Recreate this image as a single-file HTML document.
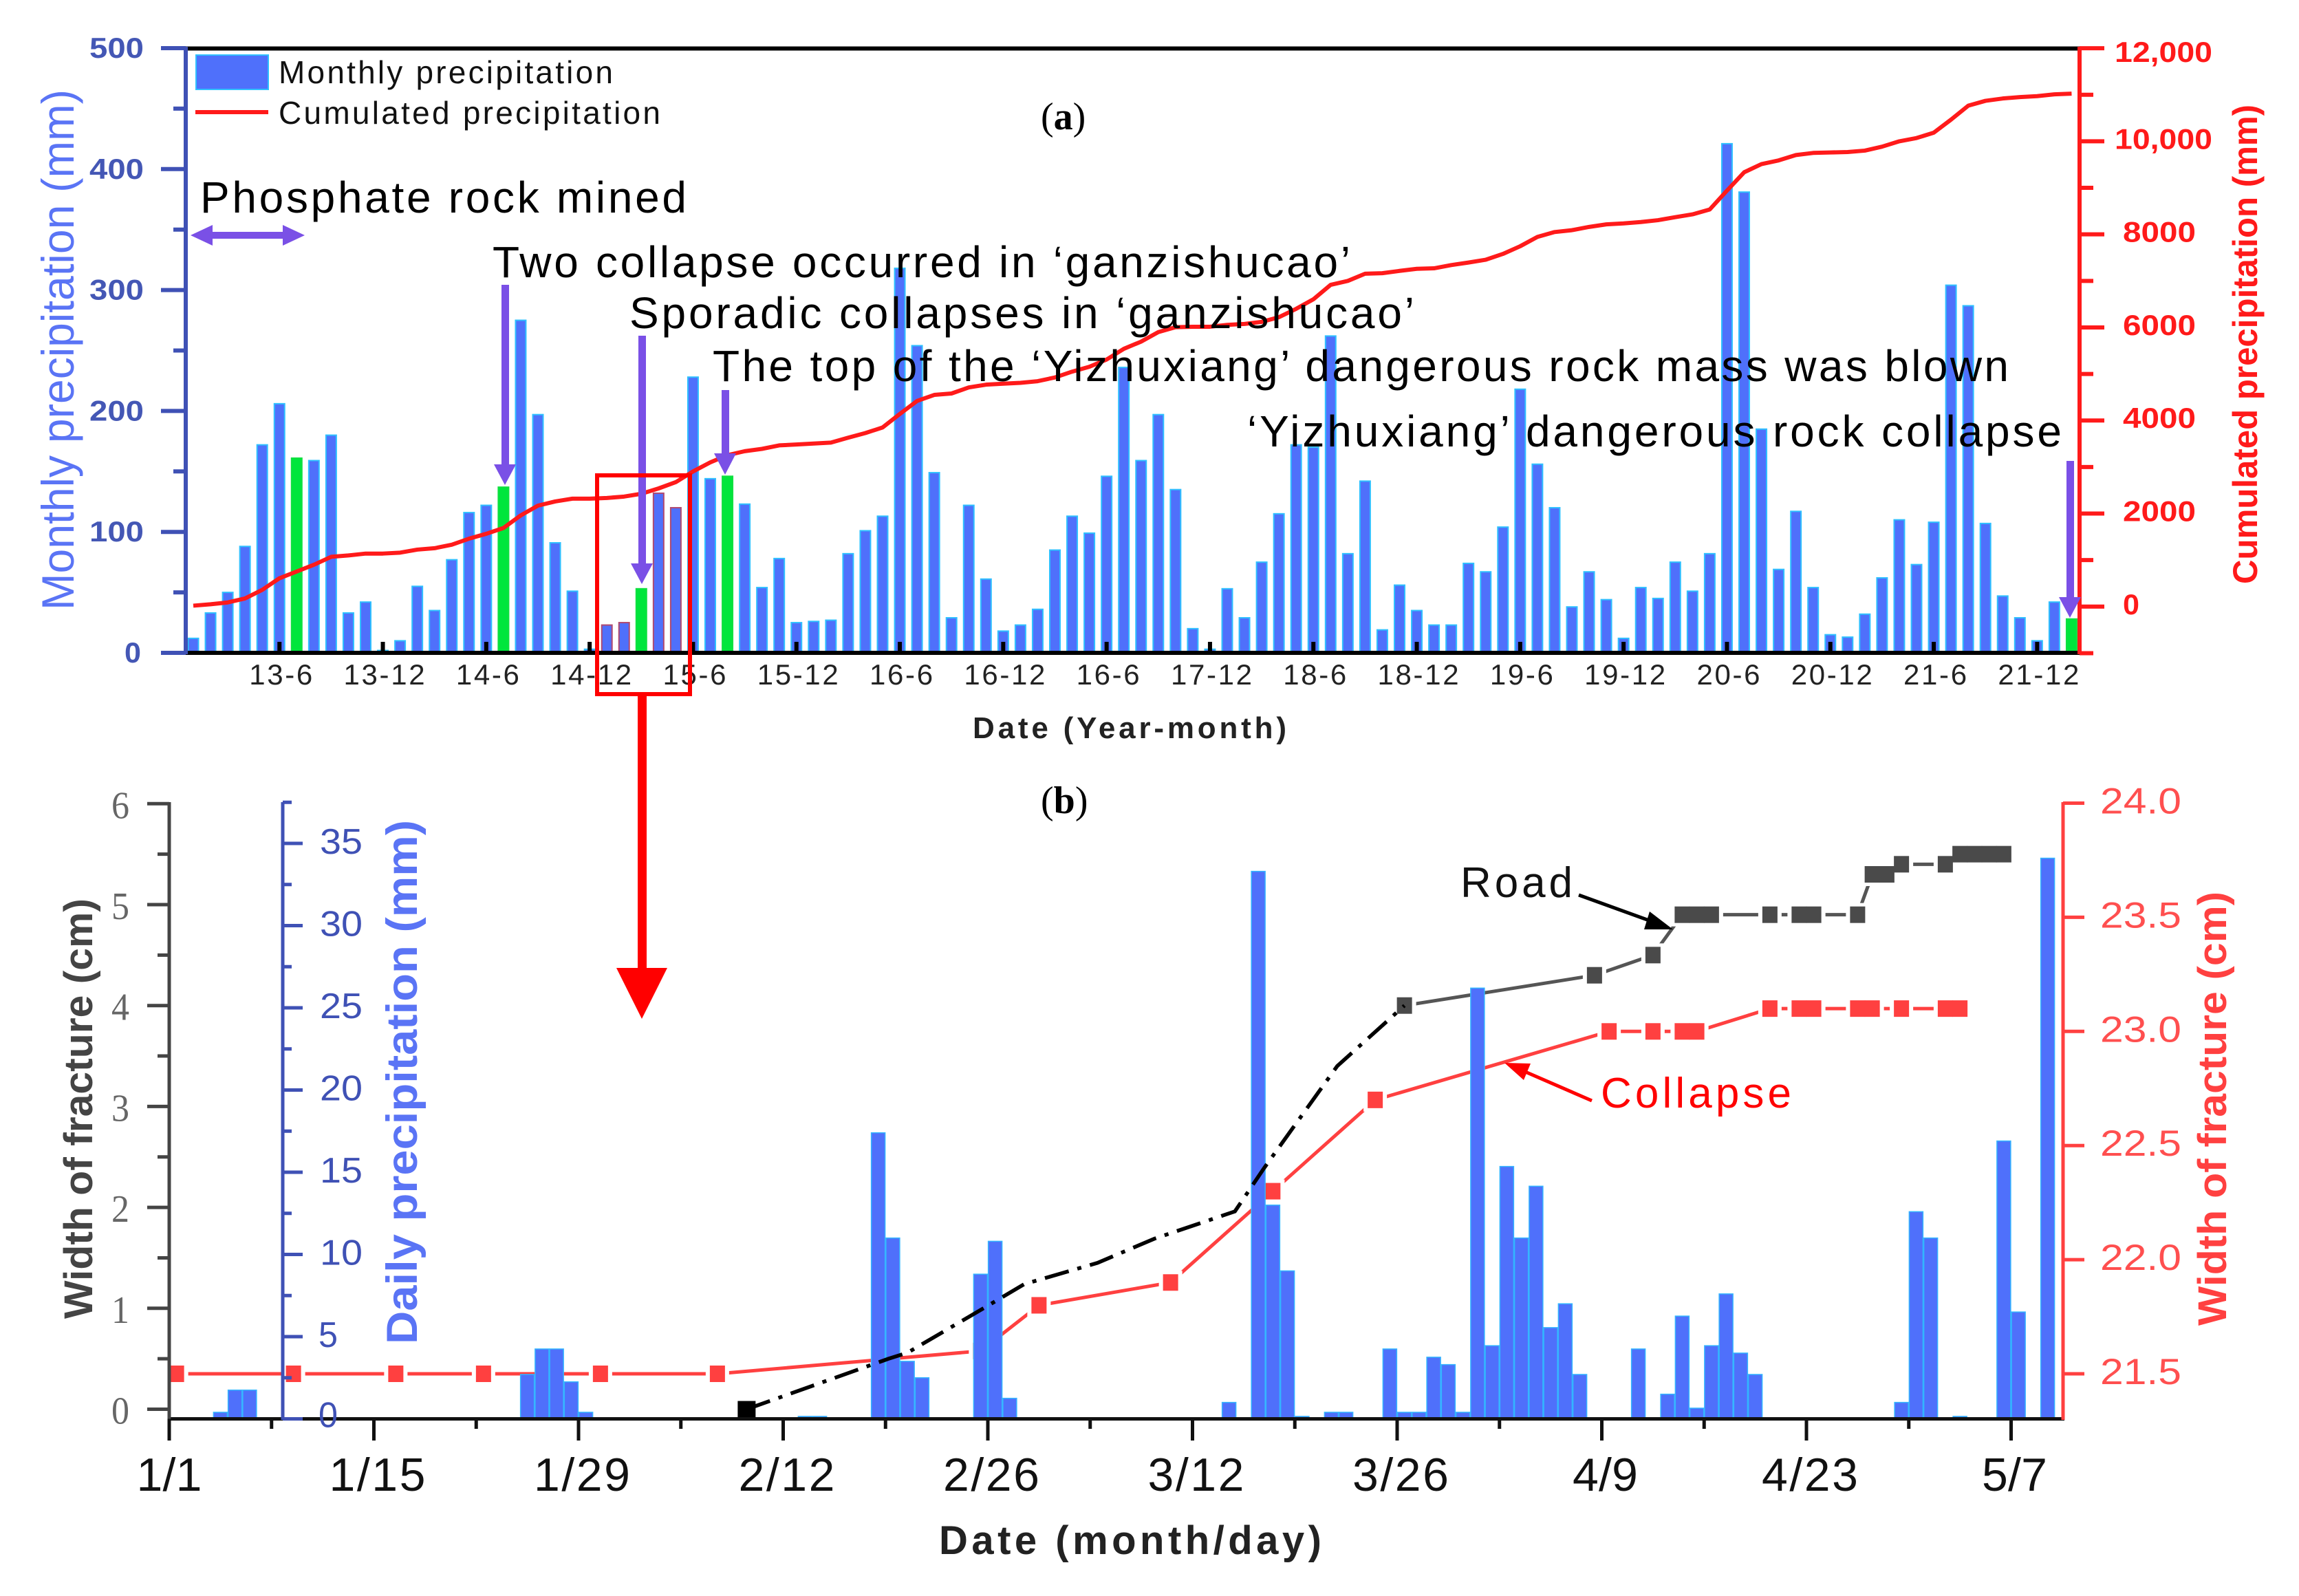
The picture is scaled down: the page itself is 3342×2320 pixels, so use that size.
<!DOCTYPE html>
<html lang="en">
<head>
<meta charset="utf-8">
<title>Precipitation and fracture width chart</title>
<style>
html,body{margin:0;padding:0;background:#fff;width:3342px;height:2320px;overflow:hidden}
svg{display:block}
text{font-family:"Liberation Sans",sans-serif}
.serif{font-family:"Liberation Serif",serif}
</style>
</head>
<body>
<svg id="chart" xmlns="http://www.w3.org/2000/svg" width="3342" height="2320" viewBox="0 0 3342 2320">
  <rect width="3342" height="2320" fill="#fff"/>
  <g id="a-back"></g>
  <g id="a-axes"></g>
  <g id="b-back"></g>
  <g id="b-bars"></g>
  <g id="b-front"></g>
  <g id="b-axes"></g>

  <!-- Panel a legend -->
  <rect x="285" y="80" width="105" height="50" fill="#4f70fb" stroke="#2fc0ff" stroke-width="2"/>
  <line x1="284" x2="390" y1="163" y2="163" stroke="#ff1a1a" stroke-width="6"/>
  <text x="405" y="121" font-size="46" fill="#111" textLength="486" lengthAdjust="spacing">Monthly precipitation</text>
  <text x="405" y="180" font-size="46" fill="#111" textLength="555" lengthAdjust="spacing">Cumulated precipitation</text>

  <!-- Panel a titles -->
  <text class="serif" x="1513" y="188" font-size="56" fill="#000">(<tspan font-weight="bold">a</tspan>)</text>
  <text transform="translate(107,887) rotate(-90)" font-size="66" fill="#5a74f5" textLength="757" lengthAdjust="spacingAndGlyphs">Monthly precipitation (mm)</text>
  <text transform="translate(3281,849) rotate(-90)" font-size="50" font-weight="bold" fill="#ff1a1a" textLength="697" lengthAdjust="spacingAndGlyphs">Cumulated precipitation (mm)</text>
  <text x="1414" y="1073" font-size="44" font-weight="bold" fill="#222" textLength="456" lengthAdjust="spacing">Date (Year-month)</text>

  <!-- Panel a annotations -->
  <text x="291" y="309" font-size="64" fill="#000" textLength="707" lengthAdjust="spacing">Phosphate rock mined</text>
  <text x="716" y="403" font-size="64" fill="#000" textLength="1247" lengthAdjust="spacing">Two collapse occurred in ‘ganzishucao’</text>
  <text x="915" y="477" font-size="64" fill="#000" textLength="1141" lengthAdjust="spacing">Sporadic collapses in ‘ganzishucao’</text>
  <text x="1036" y="554" font-size="64" fill="#000" textLength="1884" lengthAdjust="spacing">The top of the ‘Yizhuxiang’ dangerous rock mass was blown</text>
  <text x="1813" y="649" font-size="64" fill="#000" textLength="1184" lengthAdjust="spacing">‘Yizhuxiang’ dangerous rock collapse</text>

  <path fill="#7a50e6" d="M277 342 L309 327 L309 337 L411 337 L411 327 L443 342 L411 357 L411 347 L309 347 L309 357 Z"/>
  <path fill="#7a50e6" d="M729 414 h11 v261 h10 L734 705 L718 675 h11 Z"/>
  <path fill="#7a50e6" d="M928 488 h11 v331 h10 L933 849 L917 819 h11 Z"/>
  <path fill="#7a50e6" d="M1049 567 h11 v92 h10 L1054 690 L1038 659 h11 Z"/>
  <path fill="#7a50e6" d="M3004 670 h11 v198 h10 L3009 898 L2993 868 h11 Z"/>

  <rect x="868" y="691" width="135" height="318" fill="none" stroke="#ff0000" stroke-width="6"/>
  <path fill="#ff0000" d="M927 1009 h13 v398 h30 L933 1481 L896 1407 h31 Z"/>

  <!-- Panel b titles -->
  <text class="serif" x="1513" y="1182" font-size="56" fill="#000">(<tspan font-weight="bold">b</tspan>)</text>
  <text transform="translate(134,1917) rotate(-90)" font-size="58" font-weight="bold" fill="#444" textLength="611" lengthAdjust="spacingAndGlyphs">Width of fracture (cm)</text>
  <text transform="translate(606,1954) rotate(-90)" font-size="63" font-weight="bold" fill="#5a74f5" textLength="762" lengthAdjust="spacingAndGlyphs">Daily precipitation (mm)</text>
  <text transform="translate(3236,1927) rotate(-90)" font-size="58" font-weight="bold" fill="#ff4040" textLength="631" lengthAdjust="spacingAndGlyphs">Width of fracture (cm)</text>
  <text x="1365" y="2259" font-size="58" font-weight="bold" fill="#222" textLength="556" lengthAdjust="spacing">Date (month/day)</text>

  <!-- Panel b callouts -->
  <text x="2123" y="1304" font-size="62" fill="#111" textLength="163" lengthAdjust="spacing">Road</text>
  <line x1="2295" y1="1301" x2="2400" y2="1339" stroke="#000" stroke-width="5"/>
  <path fill="#000" d="M2432 1351 L2390 1351 L2398 1325 Z"/>
  <text x="2327" y="1610" font-size="62" fill="#ff0000" textLength="277" lengthAdjust="spacing">Collapse</text>
  <line x1="2314" y1="1600" x2="2215" y2="1557" stroke="#ff0000" stroke-width="5"/>
  <path fill="#ff0000" d="M2187 1545 L2225 1546 L2215 1570 Z"/>

<script>
// ---------- Panel (a) data ----------
var monthlyPrecip = [12,33,50,88,172,206,161,159,180,33,42,2,10,55,35,77,116,122,137,275,197,91,51,3,23,25,53,132,120,228,144,146,123,54,78,25,26,27,82,101,113,318,254,149,29,122,61,18,23,36,85,113,99,146,236,159,197,135,20,3,53,29,75,115,172,170,262,82,142,19,56,35,23,23,74,67,104,218,156,120,38,67,44,12,54,45,75,51,82,421,381,185,69,117,54,15,13,32,62,110,73,108,304,287,107,47,29,10,42,28];
var cumulatedPrecip = [20,50,90,175,360,610,755,900,1070,1100,1140,1140,1160,1225,1255,1330,1460,1565,1690,1960,2170,2260,2320,2320,2335,2365,2425,2540,2675,2905,3100,3255,3340,3390,3465,3485,3505,3525,3630,3730,3850,4140,4420,4550,4580,4710,4770,4790,4810,4845,4925,5050,5155,5310,5540,5695,5900,6005,6015,6015,6055,6075,6120,6220,6400,6605,6915,7000,7155,7165,7215,7260,7270,7340,7395,7455,7580,7745,7945,8050,8090,8160,8215,8235,8265,8305,8370,8430,8535,8940,9335,9510,9590,9705,9750,9760,9770,9800,9885,10000,10070,10185,10465,10765,10870,10920,10950,10970,11010,11025];
var greenMonths = [6,18,26,31,109];
var boxedMonths = [24,25,27,28];
var monthTickLabels = ['13-6','13-12','14-6','14-12','15-6','15-12','16-6','16-12','16-6','17-12','18-6','18-12','19-6','19-12','20-6','20-12','21-6','21-12'];
var monthTickIndex = [5,11,17,23,29,35,41,47,53,59,65,71,77,83,89,95,101,107];
var monthlyTicks = [0,100,200,300,400,500];
var cumulatedTicks = [0,2000,4000,6000,8000,10000,12000];
var cumulatedTickLabels = ['0','2000','4000','6000','8000','10,000','12,000'];

// ---------- Panel (b) data ----------
var rainDays = [3,4,5,24,25,26,27,28,43,44,48,49,50,51,55,56,57,72,74,75,76,77,79,80,83,84,85,86,87,88,89,90,91,92,93,94,95,96,100,102,103,104,105,106,107,108,118,119,120,122,125,126,128];
var rainMm = [0.4,1.75,1.75,2.7,4.25,4.25,2.25,0.4,0.15,0.15,17.4,11,3.5,2.5,8.8,10.8,1.25,1,33.3,13,9,0.15,0.4,0.4,4.25,0.4,0.4,3.75,3.3,0.4,26.2,4.45,15.35,11,14.15,5.55,7,2.7,4.25,1.5,6.25,0.65,4.45,7.6,4,2.7,1,12.6,11,0.15,16.9,6.5,34.1];
var roadEarlyDays = [39,48.7,50,55.2,58,63,66.9,72.4,74.4,79.4,84];
var roadEarlyCm = [0,0.5,0.56,1.0,1.24,1.45,1.69,1.96,2.39,3.4,4.0];
var roadDays = [84,97,101,103,104,105,109,111,112,115,116,117,118,121,122,123,124,125];
var roadCm = [4.0,4.3,4.5,4.9,4.9,4.9,4.9,4.9,4.9,4.9,5.3,5.3,5.4,5.4,5.5,5.5,5.5,5.5];
var collapseDays = [0,8,15,21,29,37,55,59,68,75,82,98,101,103,104,109,111,112,115,116,118,121,122];
var collapseCm = [21.5,21.5,21.5,21.5,21.5,21.5,21.6,21.8,21.9,22.3,22.7,23,23,23,23,23.1,23.1,23.1,23.1,23.1,23.1,23.1,23.1];
var dayTickLabels = ['1/1','1/15','1/29','2/12','2/26','3/12','3/26','4/9','4/23','5/7'];
var dayTickValues = [0,14,28,42,56,70,84,98,112,126];
var roadTicks = [0,1,2,3,4,5,6];
var rainTicks = [0,5,10,15,20,25,30,35];
var collapseTicks = [21.5,22,22.5,23,23.5,24];
var collapseTickLabels = ['21.5','22.0','22.5','23.0','23.5','24.0'];

// ---------- Axis functions ----------
function xMonth(i){ return 281 + 25.05*i; }
function yMonthly(v){ return 949 - 1.758*v; }
function yCumulated(v){ return 881.8 - 0.06764*v; }
function xDay(d){ return 246 + 21.25*d; }
function xBar(d){ return xDay(d + 0.5); }
function yRoad(v){ return 2048.5 - 146.7*v; }
function yRain(v){ return 2062.5 - 23.9*v; }
function yCollapse(v){ return 1997 - 331.8*(v - 21.5); }

var NS = 'http://www.w3.org/2000/svg';
function mk(parent, tag, attrs, txt){
  var el = document.createElementNS(NS, tag);
  for (var k in attrs) el.setAttribute(k, attrs[k]);
  if (txt !== undefined) el.textContent = txt;
  parent.appendChild(el);
  return el;
}
function fitText(parent, x, y, width, size, fill, txt, weight, cls, adjust){
  var a = {x:x, y:y, 'font-size':size, fill:fill, textLength:width, lengthAdjust:adjust || 'spacingAndGlyphs'};
  if (weight) a['font-weight'] = weight;
  if (cls) a['class'] = cls;
  return mk(parent, 'text', a, txt);
}
var gA = document.getElementById('a-back');
var gAx = document.getElementById('a-axes');
var gB = document.getElementById('b-back');
var gBars = document.getElementById('b-bars');
var gFront = document.getElementById('b-front');
var gBx = document.getElementById('b-axes');
var el, i;

// Monthly bars
monthlyPrecip.forEach(function(v, idx){
  var green = greenMonths.indexOf(idx) >= 0;
  var boxed = boxedMonths.indexOf(idx) >= 0;
  var b = mk(gA, 'rect', {x:xMonth(idx)-7.5, y:yMonthly(v), width:15, height:yMonthly(0)-yMonthly(v),
    fill: green ? '#00e63c' : '#4f70fb',
    stroke: boxed ? '#b04a70' : (green ? '#10e040' : '#2fc0ff'), 'stroke-width':2});
  
  
});
// Cumulated line
el = mk(gA, 'polyline', {points:cumulatedPrecip.map(function(v, idx){ return xMonth(idx)+','+yCumulated(v); }).join(' '),
  fill:'none', stroke:'#ff1a1a', 'stroke-width':6, 'stroke-linejoin':'round'});



// Panel a frame
el = mk(gAx, 'line', {x1:268, x2:3023, y1:70.5, y2:70.5, stroke:'#000', 'stroke-width':6});


el = mk(gAx, 'line', {x1:268, x2:3023, y1:949, y2:949, stroke:'#000', 'stroke-width':6});


el = mk(gAx, 'line', {x1:270, x2:270, y1:68, y2:951, stroke:'#3f51b5', 'stroke-width':6});


el = mk(gAx, 'line', {x1:3023, x2:3023, y1:68, y2:951, stroke:'#ff1a1a', 'stroke-width':6});



// Monthly axis ticks
for (i = 0; i <= 500; i += 50) {
  var majorM = i % 100 === 0;
  el = mk(gAx, 'line', {x1:majorM?234:252, x2:270, y1:yMonthly(i), y2:yMonthly(i), stroke:'#3f51b5', 'stroke-width':6});
  
  
}
monthlyTicks.forEach(function(v){
  var w = v === 0 ? 24 : 79;
  var t = fitText(gAx, v === 0 ? 181 : 130, yMonthly(v)+14, w, 42, '#4457b5', String(v), 'bold');
  
  
});
// Cumulated axis ticks
for (i = -1000; i <= 12000; i += 1000) {
  var majorC = i % 2000 === 0;
  el = mk(gAx, 'line', {x1:3023, x2:majorC?3059:3043, y1:yCumulated(i), y2:yCumulated(i), stroke:'#ff1a1a', 'stroke-width':6});
  
  
}
cumulatedTicks.forEach(function(v, idx){
  var lab = cumulatedTickLabels[idx];
  var w = lab.length === 6 ? 142 : (lab.length === 4 ? 106 : 24);
  var sx = lab.length === 6 ? 3074 : 3086;
  var t = fitText(gAx, sx, yCumulated(v) + (v === 12000 ? 20 : 11), w, 42, '#ff1a1a', lab, 'bold');
  
  
});
// Month ticks
monthTickIndex.forEach(function(m, idx){
  var tk = mk(gAx, 'line', {x1:xMonth(m), x2:xMonth(m), y1:933, y2:949, stroke:'#000', 'stroke-width':6});
  
  
  var lab = monthTickLabels[idx];
  var w = lab.length === 4 ? 92 : 118;
  var t = fitText(gAx, xMonth(m)+2-w/2, 995, w, 42, '#222', lab, null, null, 'spacing');
  
  
});

// Panel b lines behind bars
function seriesLine(parent, days, vals, yFn, color, name){
  var ln = mk(parent, 'polyline', {points:days.map(function(d, k){ return xBar(d)+','+yFn(vals[k]); }).join(' '),
    fill:'none', stroke:color, 'stroke-width':5});
  
  
}
function seriesMarkers(parent, days, vals, yFn, color, name){
  days.forEach(function(d, k){
    var h = mk(parent, 'rect', {x:xBar(d)-17, y:yFn(vals[k])-17, width:34, height:34, fill:'#fff'});
    
    
  });
  days.forEach(function(d, k){
    var r = mk(parent, 'rect', {x:xBar(d)-11, y:yFn(vals[k])-12, width:22, height:24, fill:color});
    
    
  });
}
seriesLine(gB, roadDays, roadCm, yRoad, '#555', 'road-width-line');
seriesMarkers(gB, roadDays, roadCm, yRoad, '#4a4a4a', 'road-marker');
seriesLine(gB, collapseDays, collapseCm, yCollapse, '#ff4040', 'collapse-width-line');
seriesMarkers(gB, collapseDays, collapseCm, yCollapse, '#ff4040', 'collapse-marker');

// Daily bars
rainDays.forEach(function(d, k){
  var b = mk(gBars, 'rect', {x:xBar(d)-10, y:yRain(rainMm[k]), width:20, height:yRain(0)-yRain(rainMm[k]),
    fill:'#4f70fb', stroke:'#33b5ff', 'stroke-width':1.5});
  
  
});

// Dash-dot early road segment (over bars)
el = mk(gFront, 'polyline', {points:roadEarlyDays.map(function(d, k){ return xBar(d)+','+yRoad(roadEarlyCm[k]); }).join(' '),
  fill:'none', stroke:'#000', 'stroke-width':5.5, 'stroke-dasharray':'36 13 6 13'});


el = mk(gFront, 'rect', {x:xBar(roadEarlyDays[0])-13, y:yRoad(roadEarlyCm[0])-12, width:26, height:24, fill:'#000'});



// Panel b axes
el = mk(gBx, 'line', {x1:244, x2:3001, y1:2062.5, y2:2062.5, stroke:'#111', 'stroke-width':5});


el = mk(gBx, 'line', {x1:246, x2:246, y1:1166, y2:2064, stroke:'#444', 'stroke-width':5});


el = mk(gBx, 'line', {x1:411, x2:411, y1:1166, y2:2064, stroke:'#3f51b5', 'stroke-width':5});


el = mk(gBx, 'line', {x1:2999, x2:2999, y1:1166, y2:2064, stroke:'#ff4040', 'stroke-width':5});



for (i = 0; i <= 12; i++) {
  var majorR = i % 2 === 0;
  el = mk(gBx, 'line', {x1:majorR?214:229, x2:246, y1:yRoad(i/2), y2:yRoad(i/2), stroke:'#444', 'stroke-width':5});
  
  
}
roadTicks.forEach(function(v){
  var t = fitText(gBx, 162, yRoad(v)+21, 26, 56, '#666', String(v), null, 'serif');
  
  
});
for (i = 0; i <= 15; i++) {
  var majorP = i % 2 === 0;
  el = mk(gBx, 'line', {x1:411, x2:majorP?440:424, y1:yRain(i*2.5), y2:yRain(i*2.5), stroke:'#3f51b5', 'stroke-width':5});
  
  
}
rainTicks.forEach(function(v){
  var two = v >= 10;
  var t = fitText(gBx, two ? 465 : 463, yRain(v) + (v === 0 ? 12 : 15), two ? 62 : 28, 52, '#3f51b5', String(v));
  
  
});
collapseTicks.forEach(function(v, idx){
  var tk = mk(gBx, 'line', {x1:2999, x2:3030, y1:yCollapse(v), y2:yCollapse(v), stroke:'#ff4040', 'stroke-width':5});
  
  
  var t = fitText(gBx, 3053, yCollapse(v)+15, 118, 53, '#ff4f4f', collapseTickLabels[idx]);
  
  
});
dayTickValues.forEach(function(d, idx){
  var tk = mk(gBx, 'line', {x1:xDay(d), x2:xDay(d), y1:2062.5, y2:2094, stroke:'#111', 'stroke-width':5});
  
  
  if (idx < dayTickValues.length - 1) {
    var mn = mk(gBx, 'line', {x1:xDay(d+7), x2:xDay(d+7), y1:2062.5, y2:2077, stroke:'#111', 'stroke-width':5});
    
    
  }
  var lab = dayTickLabels[idx];
  var w = lab.length === 3 ? 95 : 140;
  var t = fitText(gBx, xDay(d) + (idx === 0 ? 0 : 5) - w/2, 2167, w, 68, '#111', lab, null, null, 'spacing');
  
  
});
</script>
</svg>
</body>
</html>
